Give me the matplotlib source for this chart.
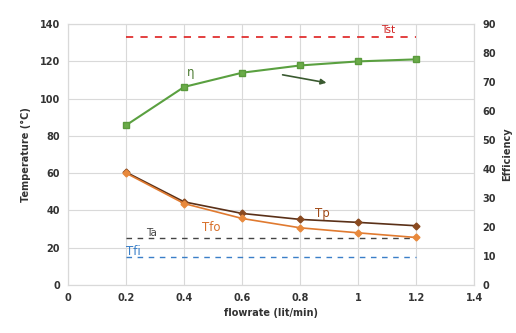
import matplotlib
matplotlib.use("Agg")
import matplotlib.pyplot as plt

flowrate = [0.2, 0.4, 0.6, 0.8, 1.0, 1.2]
efficiency = [55.1, 68.3, 73.2, 75.7, 77.1, 77.8]
Tp = [60.5, 44.6, 38.4, 35.2, 33.6, 31.8]
Tfo = [60.0, 43.7, 35.7, 30.7, 28.0, 25.5]
Tst = [133, 133]
Ta = [25, 25]
Tfi = [15, 15]
line_x = [0.2, 1.2]
x_ticks = [0, 0.2, 0.4, 0.6, 0.8, 1, 1.2, 1.4]
x_ticklabels = ["0", "0.2", "0.4", "0.6", "0.8", "1", "1.2", "1.4"]
y_ticks = [0, 20, 40, 60, 80, 100, 120, 140]
eff_ticks = [0, 10, 20, 30, 40, 50, 60, 70, 80, 90]

plt.rcParams['font.family'] = ['DejaVu Sans']
fig = plt.figure(figsize=(5.16, 3.33), dpi=100)
ax = fig.add_axes([0.132, 0.144, 0.787, 0.784])
ax2 = ax.twinx()

tick_color = "#333333"
grid_color = "#d9d9d9"

ax.set_xlim(0, 1.4)
ax.set_ylim(0, 140)
ax2.set_ylim(0, 90)
ax.set_xticks(x_ticks)
ax.set_xticklabels(x_ticklabels)
ax.set_yticks(y_ticks)
ax2.set_yticks(eff_ticks)
ax.grid(True, color=grid_color, linewidth=0.8)
ax.set_axisbelow(True)
for a in (ax, ax2):
    for s in a.spines.values():
        s.set_color(grid_color)
        s.set_linewidth(0.8)
    a.tick_params(length=0, labelsize=7, colors=tick_color, pad=6)
    for lab in a.get_xticklabels() + a.get_yticklabels():
        lab.set_fontweight("bold")

ax.plot(line_x, Tst, color="#e03030", linestyle=(0, (4, 4)), linewidth=1.3)
ax.plot(line_x, Ta, color="#444444", linestyle=(0, (4, 4)), linewidth=1.0)
ax.plot(line_x, Tfi, color="#3a7fc8", linestyle=(0, (4, 4)), linewidth=1.0)

ax.plot(flowrate, Tp, color="#5a3018", marker="D", markersize=3.5,
        markerfacecolor="#8a4a20", markeredgecolor="#8a4a20", linewidth=1.2)
ax.plot(flowrate, Tfo, color="#e07a30", marker="D", markersize=3.5,
        markerfacecolor="#e8893c", markeredgecolor="#e8893c", linewidth=1.2)
ax2.plot(flowrate, efficiency, color="#5aa040", marker="s", markersize=5,
         markerfacecolor="#6aab48", markeredgecolor="#5a9a3c", linewidth=1.5)

ax.text(1.08, 135.2, "Tst", color="#d02020", fontsize=7.5)
ax.text(0.41, 112, "η", color="#4a7a30", fontsize=8.5)
ax.text(0.85, 36.5, "Tp", color="#a04a18", fontsize=8.5)
ax.text(0.46, 29, "Tfo", color="#d8702a", fontsize=8.5)
ax.text(0.27, 26.5, "Ta", color="#444444", fontsize=7.5)
ax.text(0.2, 16, "Tfi", color="#3a7fc8", fontsize=8.5)
ax.annotate("", xy=(0.90, 108.2), xytext=(0.73, 113),
            arrowprops=dict(arrowstyle="-|>", color="#3a5a30", lw=1.2,
                            mutation_scale=8))

ax.set_xlabel("flowrate (lit/min)", fontsize=7, fontweight="bold",
              color=tick_color, labelpad=3)
ax.set_ylabel("Temperature (°C)", fontsize=7, fontweight="bold",
              color=tick_color, labelpad=6)
ax2.set_ylabel("Efficiency", fontsize=7, fontweight="bold",
               color=tick_color, labelpad=4)

fig.savefig("out.png", dpi=100)
